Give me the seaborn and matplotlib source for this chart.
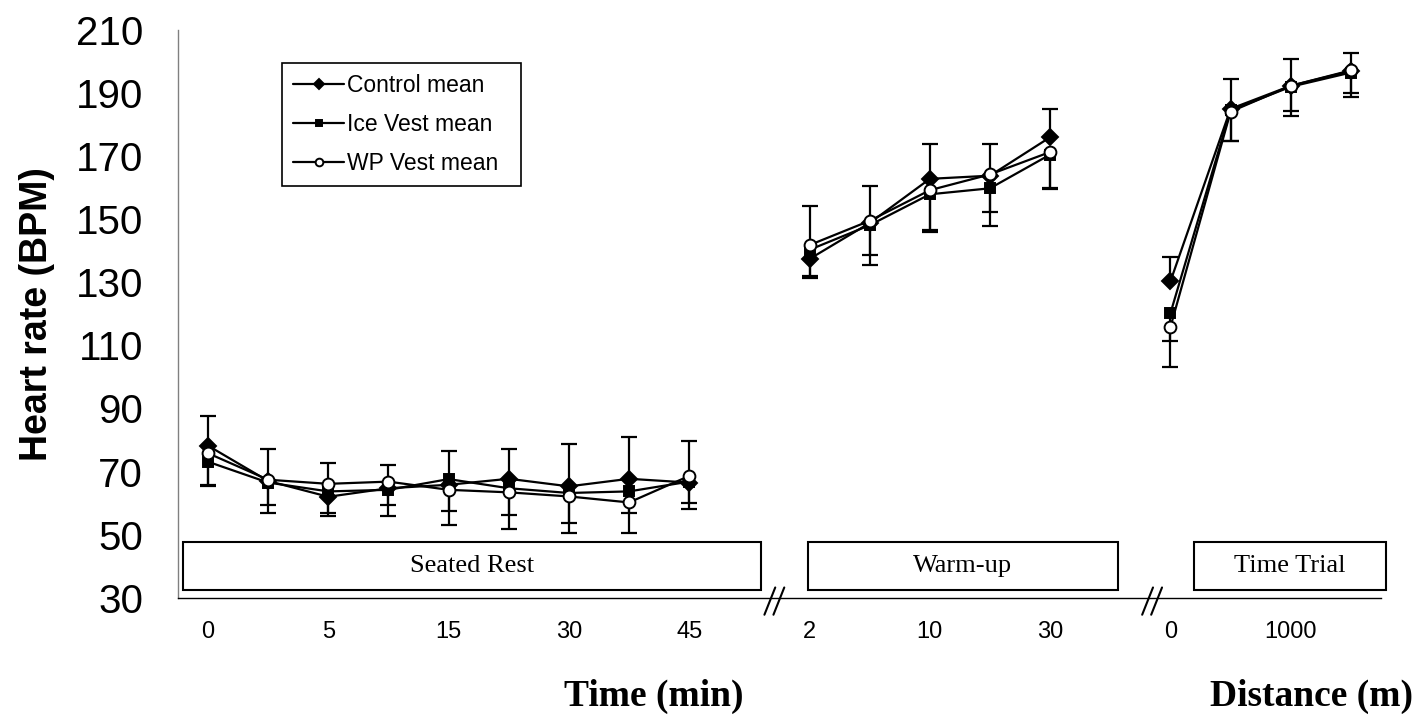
import matplotlib
matplotlib.use("Agg")
import matplotlib.pyplot as plt
import numpy as np
import pandas as pd
import seaborn as sns
from matplotlib.patches import Rectangle

# x categories (only every second one carries a label, as in the original)
rest_labels = ["0", "", "5", "", "15", "", "30", "", "45"]
warm_labels = ["2", "", "10", "", "30"]
trial_labels = ["0", "", "1000", ""]

# heart rate means
control_rest = [78.2, 67.0, 62.0, 64.7, 65.8, 67.7, 65.3, 67.7, 66.5]
ice_rest = [73.1, 66.5, 63.7, 64.2, 67.6, 64.7, 63.2, 63.7, 66.8]
wp_rest = [75.8, 67.4, 66.1, 66.8, 64.2, 63.4, 62.1, 60.2, 68.6]

control_warm = [137.4, 148.8, 162.8, 163.8, 176.0]
ice_warm = [140.3, 148.1, 157.9, 159.8, 170.5]
wp_warm = [141.8, 149.5, 159.2, 164.2, 171.3]

control_trial = [130.3, 185.0, 192.3, 197.0]
ice_trial = [120.2, 184.5, 192.0, 196.5]
wp_trial = [115.8, 184.1, 192.3, 197.2]

# SD (control drawn upwards, vests drawn downwards)
control_rest_sd = [9.4, 10.2, 10.8, 7.4, 10.8, 9.5, 13.3, 13.3, 13.2]
ice_rest_sd = [7.8, 7.0, 6.9, 4.7, 10.0, 8.4, 9.5, 6.9, 6.8]
wp_rest_sd = [10.0, 10.6, 10.3, 11.0, 11.3, 11.6, 11.6, 9.7, 10.5]

control_warm_sd = [16.8, 11.7, 11.2, 10.2, 9.0]
ice_warm_sd = [9.0, 9.3, 11.9, 11.9, 10.5]
wp_warm_sd = [9.9, 14.0, 12.7, 11.9, 11.8]

control_trial_sd = [7.6, 9.4, 8.4, 5.6]
ice_trial_sd = [8.8, 9.8, 7.8, 7.9]
wp_trial_sd = [12.6, 9.4, 9.5, 7.2]

phases = ["Seated Rest", "Warm-up", "Time Trial"]
groups = ["Control mean", "Ice Vest mean", "WP Vest mean"]

# layout: first slot of each phase on the category axis (gaps at 9 and 15)
phase_start = {"Seated Rest": 0, "Warm-up": 10, "Time Trial": 16}
n_slots = 20
# phase label boxes (x0, x1 in slots, y0, y1 in BPM)
boxes = {"Seated Rest": (-0.42, 9.2), "Warm-up": (9.98, 15.12), "Time Trial": (16.39, 19.58)}
box_y = (32.4, 47.6)
breaks = [9.43, 15.71]

means = {
    "Seated Rest": [control_rest, ice_rest, wp_rest],
    "Warm-up": [control_warm, ice_warm, wp_warm],
    "Time Trial": [control_trial, ice_trial, wp_trial],
}
sds = {
    "Seated Rest": [control_rest_sd, ice_rest_sd, wp_rest_sd],
    "Warm-up": [control_warm_sd, ice_warm_sd, wp_warm_sd],
    "Time Trial": [control_trial_sd, ice_trial_sd, wp_trial_sd],
}

rows = []
for ph in phases:
    for g, m, s in zip(groups, means[ph], sds[ph]):
        for i, (v, e) in enumerate(zip(m, s)):
            rows.append({"phase": ph, "group": g, "slot": phase_start[ph] + i, "hr": v, "sd": e})
df = pd.DataFrame(rows)

sns.set_style("white")
plt.rcParams["font.family"] = ["Liberation Sans", "DejaVu Sans"]
plt.rcParams["text.color"] = "k"
plt.rcParams["axes.labelcolor"] = "k"
plt.rcParams["xtick.color"] = "k"
plt.rcParams["ytick.color"] = "k"

fig, ax = plt.subplots(figsize=(14.19, 7.17), dpi=100)
fig.subplots_adjust(left=0.1254, right=0.9732, bottom=0.1664, top=0.9582)

styles = {
    "Control mean": dict(marker="D", markersize=8, markerfacecolor="k"),
    "Ice Vest mean": dict(marker="s", markersize=7.5, markerfacecolor="k"),
    "WP Vest mean": dict(marker="o", markersize=8.5, markerfacecolor="w"),
}
upward = {"Control mean": True, "Ice Vest mean": False, "WP Vest mean": False}

for ph in phases:
    for g in groups:
        sub = df[(df.phase == ph) & (df.group == g)]
        lab = g if ph == phases[0] else "_nolegend_"
        sns.lineplot(data=sub, x="slot", y="hr", ax=ax, color="k", linewidth=1.6,
                     markeredgecolor="k", markeredgewidth=1.4, errorbar=None,
                     label=lab, zorder=4, **styles[g])
        zero = np.zeros(len(sub))
        yerr = [zero, sub.sd.values] if upward[g] else [sub.sd.values, zero]
        eb = ax.errorbar(sub.slot, sub.hr, yerr=yerr, fmt="none", ecolor="k",
                         elinewidth=1.6, capsize=6, capthick=1.6, zorder=3)
        # hide the cap that would sit on the mean itself
        eb[1][0 if upward[g] else 1].set_visible(False)

# phase boxes
for ph in phases:
    x0, x1 = boxes[ph]
    ax.add_patch(Rectangle((x0, box_y[0]), x1 - x0, box_y[1] - box_y[0], fill=False,
                           edgecolor="k", linewidth=1.5, clip_on=False, zorder=2))
    ax.text((x0 + x1) / 2, sum(box_y) / 2, ph, ha="center", va="center",
            fontsize=19, family=["Liberation Serif", "DejaVu Serif"])

# axis break marks
tr = ax.get_xaxis_transform()
for b in breaks:
    for off in (0.0, 0.15):
        ax.plot([b - 0.18 + off, b + off], [-0.03, 0.018], color="k", lw=1.5,
                transform=tr, clip_on=False, zorder=5)

ax.set_xlim(-0.5, n_slots - 0.5)
ax.set_ylim(30, 210)
ax.set_yticks(np.arange(30, 211, 20))

slot_labels = [""] * n_slots
for ph, labs in zip(phases, [rest_labels, warm_labels, trial_labels]):
    for i, t in enumerate(labs):
        slot_labels[phase_start[ph] + i] = t
ax.set_xticks(np.arange(-0.5, n_slots, 1))
ax.set_xticklabels([])
ax.set_xticks(np.arange(n_slots), minor=True)
ax.set_xticklabels(slot_labels, minor=True)
ax.tick_params(axis="x", which="major", direction="out", length=5, width=1, color="k")
ax.tick_params(axis="x", which="minor", length=0, pad=17, labelsize=17)
ax.tick_params(axis="y", direction="out", length=10, width=1, color="k", pad=15, labelsize=29)

for sp in ["top", "right"]:
    ax.spines[sp].set_visible(False)
ax.spines["left"].set_color("#808080")
ax.spines["bottom"].set_color("k")
ax.spines["left"].set_linewidth(1)
ax.spines["bottom"].set_linewidth(1)

ax.set_xlabel("")
ax.set_ylabel("Heart rate (BPM)", fontsize=27, fontweight="bold")
ax.yaxis.set_label_coords(-0.102, 0.5)

fig.text(0.4609, 0.029, "Time (min)", ha="center", va="center", fontsize=27,
         fontweight="bold", family=["Liberation Serif", "DejaVu Serif"])
fig.text(0.9958, 0.029, "Distance (m)", ha="right", va="center", fontsize=27,
         fontweight="bold", family=["Liberation Serif", "DejaVu Serif"])

leg = ax.legend(loc="upper left", bbox_to_anchor=(0.0865, 0.736, 0.199, 0.206),
                mode="expand", borderaxespad=0,
                fontsize=16.5, frameon=True, fancybox=False, edgecolor="k", framealpha=1,
                markerscale=0.65, handlelength=2.2, handletextpad=0.15,
                labelspacing=0.68, borderpad=0.5)
leg.get_frame().set_linewidth(1.2)

fig.savefig("out.png", dpi=100)
